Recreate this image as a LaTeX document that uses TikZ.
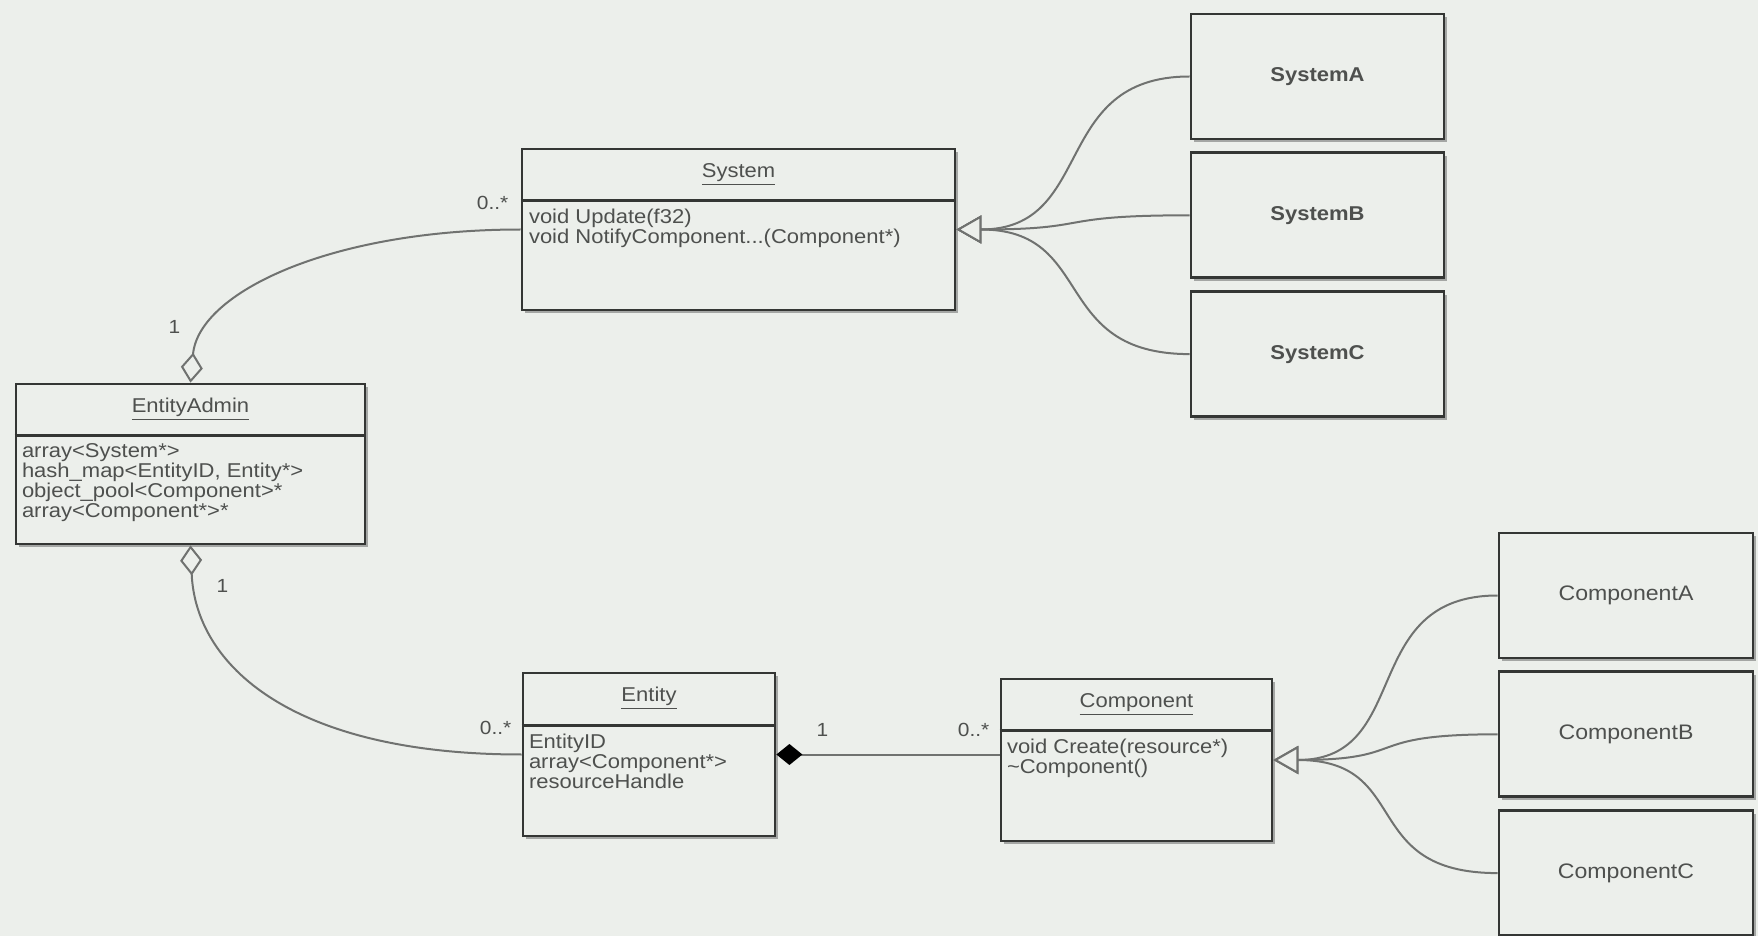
\documentclass[tikz,border=0pt]{standalone}
\usepackage{fontspec}
\setmainfont[FakeStretch=1.1]{Liberation Sans}
\usepackage{tikz}
\usetikzlibrary{arrows.meta,positioning,calc,shadows}
\definecolor{canvas}{RGB}{236,239,235}
\definecolor{boxline}{RGB}{52,54,52}
\definecolor{wire}{RGB}{112,114,112}
\definecolor{inktext}{RGB}{78,80,78}

\tikzset{
    cls/.style={draw=boxline, line width=1.4pt, fill=canvas, inner sep=0pt,
        drop shadow={shadow xshift=1.6pt, shadow yshift=-1.6pt, fill=black, opacity=0.3}},
    subcls/.style={cls, minimum width=126.5pt, minimum height=62.5pt, text=inktext},
    ctitle/.style={text=inktext, font=\fontsize{10}{12}\selectfont, inner sep=0pt},
    cbody/.style={text=inktext, font=\fontsize{10}{10}\selectfont, align=left, anchor=north west, inner sep=0pt},
    divider/.style={draw=boxline, line width=1.3pt},
    mult/.style={text=inktext, font=\fontsize{9.5}{11}\selectfont, inner sep=0pt},
    wireline/.style={draw=wire, line width=1pt},
    aggr/.style={wireline, {Diamond[open, length=15pt, width=11pt, line width=1pt]}-},
    compo/.style={wireline, {Diamond[length=13pt, width=10.5pt, fill=black, color=black]}-},
    inh/.style={wireline, -{Triangle[fill=canvas, length=12.5pt, width=14pt, line width=1pt]}},
}

\begin{document}
\begin{tikzpicture}[x=0.5pt, y=-0.5pt]
    \fill[canvas] (0,0) rectangle (1758,936);
    \useasboundingbox (0,0) rectangle (1758,936);

    % classes
    \node[cls, minimum width=216.5pt, minimum height=80.5pt] (system) at (738.5,229.5) {};
    \draw[divider] ([shift={(0,53)}]system.north west) -- ([shift={(0,53)}]system.north east);
    \node[ctitle] (systemT) at ([shift={(0,27)}]system.north) {\underline{System}};
    \node[cbody] (systemB) at ([shift={(8,61)}]system.north west) {void Update(f32)\\void NotifyComponent...(Component*)};

    \node[cls, minimum width=174.5pt, minimum height=80pt] (admin) at (190.5,464) {};
    \draw[divider] ([shift={(0,53)}]admin.north west) -- ([shift={(0,53)}]admin.north east);
    \node[ctitle] (adminT) at ([shift={(0,27)}]admin.north) {\underline{EntityAdmin}};
    \node[cbody] (adminB) at ([shift={(7,61)}]admin.north west) {array<System*>\\hash\_map<EntityID, Entity*>\\object\_pool<Component>*\\array<Component*>*};

    \node[cls, minimum width=126pt, minimum height=81.5pt] (entity) at (649,754.5) {};
    \draw[divider] ([shift={(0,54)}]entity.north west) -- ([shift={(0,54)}]entity.north east);
    \node[ctitle] (entityT) at ([shift={(0,27)}]entity.north) {\underline{Entity}};
    \node[cbody] (entityB) at ([shift={(7,62)}]entity.north west) {EntityID\\array<Component*>\\resourceHandle};

    \node[cls, minimum width=135.5pt, minimum height=81pt] (component) at (1136.5,760) {};
    \draw[divider] ([shift={(0,53)}]component.north west) -- ([shift={(0,53)}]component.north east);
    \node[ctitle] (componentT) at ([shift={(0,27)}]component.north) {\underline{Component}};
    \node[cbody] (componentB) at ([shift={(7,61)}]component.north west) {void Create(resource*)\\\textasciitilde Component()};

    % subclasses
    \node[subcls, font=\bfseries\fontsize{10}{12}\selectfont] (sysA) at (1317.5,76.5) {SystemA};
    \node[subcls, font=\bfseries\fontsize{10}{12}\selectfont, below=5.5pt of sysA] (sysB) {SystemB};
    \node[subcls, font=\bfseries\fontsize{10}{12}\selectfont, below=5.5pt of sysB] (sysC) {SystemC};

    \node[subcls, minimum width=127pt, font=\fontsize{10.5}{12}\selectfont] (compA) at (1626,595.5) {ComponentA};
    \node[subcls, minimum width=127pt, font=\fontsize{10.5}{12}\selectfont, below=5.5pt of compA] (compB) {ComponentB};
    \node[subcls, minimum width=127pt, font=\fontsize{10.5}{12}\selectfont, below=5.5pt of compB] (compC) {ComponentC};

    % associations
    \draw[aggr] (admin.north) .. controls +(8,-90) and +(-190,0) .. (system.west);
    \draw[aggr] (admin.south) .. controls +(5,120) and +(-230,0) .. (entity.west);
    \draw[compo] (entity.east) -- (entity.east -| component.west);

    \node[mult] (mSys) at ([shift={(-28,-27)}]system.west) {0..*};
    \node[mult] (mAdmTop) at ([shift={(-16,-56)}]admin.north) {1};
    \node[mult] (mAdmBot) at ([shift={(32,41)}]admin.south) {1};
    \node[mult] (mEnt) at ([shift={(-26,-27)}]entity.west) {0..*};
    \node[mult] (mEntComp) at ([shift={(46,-25)}]entity.east) {1};
    \node[mult] (mComp) at ([shift={(-26,-25)}]entity.east -| component.west) {0..*};

    % inheritance
    \draw[inh] (sysA.west) .. controls +(-140,0) and +(140,0) .. (system.east);
    \draw[inh] (sysB.west) .. controls +(-140,0) and +(140,0) .. (system.east);
    \draw[inh] (sysC.west) .. controls +(-140,0) and +(140,0) .. (system.east);
    \draw[inh] (compA.west) .. controls +(-140,0) and +(140,0) .. (component.east);
    \draw[inh] (compB.west) .. controls +(-140,0) and +(140,0) .. (component.east);
    \draw[inh] (compC.west) .. controls +(-140,0) and +(140,0) .. (component.east);
\end{tikzpicture}
\end{document}
